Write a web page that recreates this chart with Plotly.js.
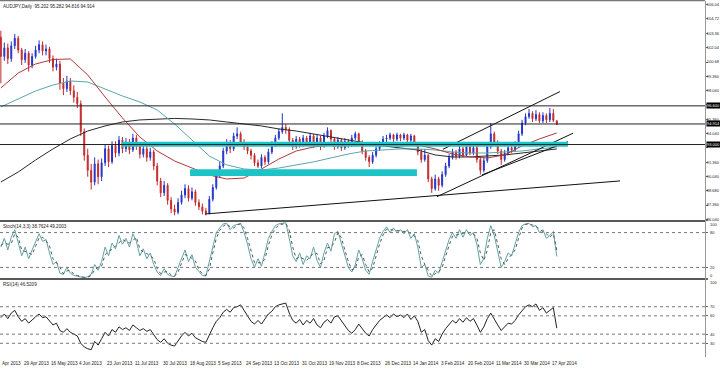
<!DOCTYPE html>
<html><head><meta charset="utf-8">
<script src="https://cdn.plot.ly/plotly-3.0.1.min.js"></script>
<style>html,body{margin:0;padding:0;background:#fff;}#chart{width:720px;height:378px;}</style>
</head><body><div id="chart"></div>
<script>
// ---- Price candles (each candle = 2 trading bars) ----
const openP = [103.0,101.2,102.0,101.0,102.2,102.9,101.8,100.9,101.5,100.4,
101.2,101.8,102.3,101.7,101.9,101.0,100.2,100.5,98.7,98.2,
98.9,98.0,97.4,96.8,94.2,92.0,90.6,89.5,91.2,90.0,
91.3,92.6,91.4,92.9,92.2,93.4,92.6,93.2,92.5,93.6,
92.9,92.1,92.6,91.8,92.3,91.0,89.6,88.5,89.2,87.8,
87.0,86.7,87.6,88.3,88.9,88.0,88.6,87.6,87.2,86.8,
86.6,87.9,89.0,90.2,91.0,92.4,93.1,92.6,93.8,94.0,
93.2,92.8,92.4,92.0,91.3,91.0,91.8,91.4,92.3,93.0,
93.6,94.2,94.6,94.4,93.4,92.8,93.5,93.0,93.6,93.2,
93.8,93.0,93.6,92.9,93.8,94.3,93.5,92.8,93.4,92.7,
93.3,93.0,93.6,94.0,93.2,92.4,91.8,91.4,92.0,92.6,
93.0,93.5,93.6,93.9,93.5,93.9,93.6,93.9,93.4,93.8,
93.1,92.3,91.6,92.0,89.8,88.9,89.8,89.2,90.2,91.0,
91.8,92.3,91.9,92.6,92.0,92.8,92.2,92.7,91.6,90.6,
91.5,92.8,94.0,93.2,92.4,91.6,92.2,92.7,92.5,93.0,
94.0,95.0,95.6,95.9,95.4,95.8,95.2,95.7,95.3,95.9,
95.202];
const highP = [103.6,102.5,102.4,102.6,103.3,103.1,102.0,101.9,101.7,101.5,
102.2,102.7,102.6,102.3,102.1,101.3,101.0,100.8,99.2,99.4,
99.2,98.5,97.9,97.1,94.5,92.6,91.2,91.8,91.6,91.7,
93.0,92.9,93.3,93.3,93.8,93.7,93.6,93.5,94.0,93.9,
93.2,93.0,92.9,92.7,92.5,91.3,89.9,89.6,89.4,88.1,
87.4,88.0,88.7,89.3,89.2,89.0,88.8,87.9,87.5,87.1,
88.2,89.3,90.5,91.4,92.7,93.5,93.4,94.1,94.6,94.2,
93.5,93.1,92.6,92.2,91.6,92.1,92.0,92.6,93.3,93.9,
94.5,95.9,94.9,94.6,93.6,93.8,93.7,93.9,93.8,94.1,
94.0,93.9,93.8,94.1,94.6,94.4,93.7,93.7,93.6,93.6,
93.5,93.9,94.2,94.1,93.4,92.6,92.0,92.3,92.9,93.3,
93.8,93.9,94.1,94.0,94.1,94.0,94.1,94.0,94.0,93.9,
93.2,92.6,92.6,92.1,90.0,90.2,90.0,90.5,91.3,92.1,
92.6,92.5,92.9,92.8,93.1,93.0,93.0,92.9,91.8,91.8,
93.1,95.0,94.2,93.4,92.6,92.5,93.0,93.0,93.3,94.3,
95.3,95.9,96.3,96.1,96.2,96.0,96.0,95.9,96.4,96.3,
95.282];
const lowP = [98.7,100.8,100.5,100.7,101.9,101.5,100.4,100.6,99.8,100.1,
101.0,101.5,101.3,101.3,100.6,99.8,99.9,98.1,97.6,97.9,
97.6,96.9,96.4,93.8,91.5,90.0,88.8,89.2,89.3,89.6,
91.0,90.9,91.2,91.8,91.9,92.2,92.3,92.1,92.3,92.5,
91.7,91.8,91.4,91.5,90.6,89.2,88.1,88.2,87.4,86.6,
86.4,86.5,87.4,88.0,87.7,87.8,87.3,86.9,86.5,86.4,
86.5,87.7,88.8,89.9,90.8,92.1,92.2,92.4,93.5,92.9,
92.5,92.1,91.6,91.0,90.8,90.8,91.1,91.2,92.1,92.8,
93.4,94.0,94.0,93.1,92.5,92.6,92.7,92.8,92.9,93.0,
92.7,92.8,92.5,92.7,93.6,93.2,92.5,92.6,92.4,92.5,
92.7,92.8,93.4,92.9,92.1,91.5,90.9,91.2,91.8,92.4,
92.8,93.2,93.4,93.2,93.3,93.3,93.4,93.2,93.2,92.9,
92.0,91.3,91.4,89.5,88.5,88.7,88.7,89.0,90.0,90.8,
91.6,91.6,91.7,91.8,91.9,92.0,92.0,91.3,90.2,90.4,
91.3,92.6,92.9,92.1,91.1,91.4,92.0,92.2,92.3,92.8,
93.8,94.8,95.4,95.1,95.2,95.0,95.0,95.0,95.1,95.1,
94.816];
const closeP = [101.2,102.0,101.0,102.2,102.9,101.8,100.9,101.5,100.4,101.2,
101.8,102.3,101.7,101.9,101.0,100.2,100.5,98.7,98.2,98.9,
98.0,97.4,96.8,94.2,92.0,90.6,89.5,91.2,90.0,91.3,
92.6,91.4,92.9,92.2,93.4,92.6,93.2,92.5,93.6,92.9,
92.1,92.6,91.8,92.3,91.0,89.6,88.5,89.2,87.8,87.0,
86.7,87.6,88.3,88.9,88.0,88.6,87.6,87.2,86.8,86.6,
87.9,89.0,90.2,91.0,92.4,93.1,92.6,93.8,94.0,93.2,
92.8,92.4,92.0,91.3,91.0,91.8,91.4,92.3,93.0,93.6,
94.2,94.6,94.4,93.4,92.8,93.5,93.0,93.6,93.2,93.8,
93.0,93.6,92.9,93.8,94.3,93.5,92.8,93.4,92.7,93.3,
93.0,93.6,94.0,93.2,92.4,91.8,91.4,92.0,92.6,93.0,
93.5,93.6,93.9,93.5,93.9,93.6,93.9,93.4,93.8,93.1,
92.3,91.6,92.0,89.8,88.9,89.8,89.2,90.2,91.0,91.8,
92.3,91.9,92.6,92.0,92.8,92.2,92.7,91.6,90.6,91.5,
92.8,94.0,93.2,92.4,91.6,92.2,92.7,92.5,93.0,94.0,
95.0,95.6,95.9,95.4,95.8,95.2,95.7,95.3,95.9,95.25,
94.914];

// ---- Moving averages (sampled every 10 bars) ----
const maBar = [0,10,20,30,40,50,60,70,80,90,100,110,120,130,140,150,160,170,180,190,200,210,220,230,240,250,260,270,280,290,300,310,320];
const maRed = [98.27,99.66,100.50,100.92,100.97,99.48,97.43,95.47,93.70,92.40,91.47,90.81,90.16,89.79,89.88,90.72,91.65,92.40,92.77,92.96,93.10,93.15,92.96,92.87,92.96,92.59,92.12,91.84,91.75,92.03,92.87,93.52,94.08];
const maTeal = [96.50,97.24,97.99,98.54,98.92,98.82,98.17,97.52,96.96,96.22,94.91,93.42,91.93,91.10,90.72,90.63,90.81,91.10,91.38,91.75,92.12,92.40,92.49,92.59,92.59,92.49,92.31,92.21,92.21,92.31,92.40,92.59,92.77];
const maDark = [89.51,90.44,91.56,92.59,93.52,94.26,94.73,95.10,95.29,95.38,95.43,95.38,95.29,95.10,94.91,94.73,94.45,94.26,93.98,93.70,93.42,93.14,92.87,92.68,92.49,92.03,91.84,91.84,91.93,92.03,92.21,92.40,92.59];

// ---- Drawn objects ----
const trendBars = [[117.5,356.4],[254.5,321.8],[251.0,329.3],[276.9,326.4]];
const trendPrices = [[86.53,89.61],[92.56,97.93],[88.14,94.05],[90.17,93.27]];
const zoneBars = [[69.7,326.4],[108.9,239.5]];
const zonePrices = [[92.80,93.27],[90.07,90.70]];
const levelPrices = [96.600,94.914,93.000];
const levelLabels = ['96.600','94.914','93.000'];

// ---- Stochastic (14,3,3) ----
const stochK = [55,70,50,72,85,60,40,55,35,50,65,
78,65,68,45,25,30,10,8,20,10,6,5,
3,2,4,8,25,15,30,55,
40,62,52,75,60,70,55,78,65,40,52,35,45,
25,12,6,18,8,5,4,20,35,50,30,42,20,12,6,5,30,
60,80,88,95,96,85,92,94,96,
80,60,35,20,35,22,45,70,82,92,95,96,97,
70,40,30,45,25,40,35,55,32,20,45,62,48,78,82,60,40,
20,12,25,50,35,15,8,30,50,70,82,90,80,88,80,85,78,85,70,78,55,
20,25,5,3,15,10,30,50,68,80,70,85,72,85,75,80,
60,25,35,70,92,75,45,20,30,45,40,60,80,
92,95,96,90,92,80,85,70,75,82,38.8];
const stochD = [58,62,60,61,78,72,50,48,45,42,57,
71,72,66,57,35,28,20,9,14,15,8,6,
4,3,3,6,16,20,22,42,
48,51,57,63,68,65,62,66,72,52,46,44,40,
35,18,9,12,13,7,5,12,27,42,40,36,31,16,9,6,17,
45,70,84,91,95,90,88,93,95,
88,70,48,28,28,28,34,58,76,87,93,95,96,
84,55,35,38,35,32,38,45,44,26,32,54,55,63,80,71,50,
30,16,18,38,42,25,12,19,40,60,76,86,85,84,84,82,82,82,78,74,66,
40,25,16,5,9,12,20,40,58,74,76,78,79,79,80,78,
70,45,32,50,80,85,62,35,25,35,42,50,70,
88,94,95,93,91,86,82,78,72,78,49.2];
const stochLevels = [80,20];
const stochScale = [100,80,20,0];

// ---- RSI(14) ----
const rsi = [58,62,57,63,66,59,54,57,52,56,59,62,58,59,54,50,52,44,42,46,42,40,38,
30,26,24,23,32,28,35,42,
38,45,42,48,45,47,44,50,47,44,46,43,45,
39,34,31,35,30,28,27,33,38,42,38,41,36,34,32,31,40,
47,54,58,64,67,64,69,70,72,
66,60,54,51,55,51,57,62,65,70,72,73,74,
63,55,52,56,50,55,52,57,50,47,53,56,52,59,60,55,50,
44,41,45,51,46,41,38,45,50,55,58,61,58,62,59,61,58,62,56,60,54,
42,45,33,28,35,32,40,46,51,55,52,57,53,58,54,57,
50,42,48,57,63,56,50,44,48,52,51,55,61,
66,70,72,70,73,66,69,63,66,69,46.5];
const rsiLevels = [70,60,40,30];
const rsiScale = [100,70,60,40,30];

// ---- Axis labels ----
const timeLabels = ['Apr 2013','29 Apr 2013','16 May 2013','4 Jun 2013','23 Jun 2013','11 Jul 2013','30 Jul 2013','18 Aug 2013','5 Sep 2013','24 Sep 2013','13 Oct 2013','31 Oct 2013','19 Nov 2013','8 Dec 2013','26 Dec 2013','14 Jan 2014','3 Feb 2014','20 Feb 2014','11 Mar 2014','30 Mar 2014','17 Apr 2014'];
const timeBars = [-4,12,28,44,60,76,92,108,124,140,156,172,188,204,220,236,252,268,284,300,316];
const priceTicks = [86.04,87.36,88.68,90.04,91.36,92.72,94.04,95.36,96.72,98.04,99.36,100.68,102.04,103.36,104.72,106.04];
const priceTickText = ['86.040','87.360','88.680','90.040','91.360','','94.040','95.360','','98.040','99.360','100.68','102.04','103.36','104.72','106.04'];
const titleText = 'AUDJPY,Daily  95.202 95.282 94.816 94.914';
const stochText = 'Stoch(14,3,3) 38.7624 49.2003';
const rsiText = 'RSI(14) 46.5209';

const X_RANGE = [-0.49, 405.3];
const candleX = closeP.map((_, i) => i * 2);
const FAM = 'Liberation Sans, Arial, sans-serif';
const SMALL = {family:FAM, size:4, color:'#222'};
const LABEL = {family:FAM, size:4.6, color:'#222'};

const traces = [];
traces.push({type:'scatter', mode:'lines', x:maBar, y:maDark, line:{color:'#2a2a2a', width:1}, hoverinfo:'skip'});
traces.push({type:'scatter', mode:'lines', x:maBar, y:maTeal, line:{color:'#5aa6ad', width:1}, hoverinfo:'skip'});
traces.push({type:'scatter', mode:'lines', x:maBar, y:maRed, line:{color:'#b0383a', width:1}, hoverinfo:'skip'});
trendBars.forEach((tb, k) => traces.push({type:'scatter', mode:'lines', x:tb, y:trendPrices[k], line:{color:'#111', width:1}, hoverinfo:'skip'}));
traces.push({type:'candlestick', x:candleX, open:openP, high:highP, low:lowP, close:closeP,
  increasing:{line:{color:'#2436c8', width:1}, fillcolor:'#2436c8'},
  decreasing:{line:{color:'#c42a2a', width:1}, fillcolor:'#c42a2a'},
  whiskerwidth:0, hoverinfo:'skip', xaxis:'x', yaxis:'y'});
traces.push({type:'scatter', mode:'lines', x:candleX, y:stochK, xaxis:'x', yaxis:'y2', line:{color:'#5fa3a6', width:1}, hoverinfo:'skip'});
traces.push({type:'scatter', mode:'lines', x:candleX, y:stochD, xaxis:'x', yaxis:'y2', line:{color:'#555', width:1, dash:'dot'}, hoverinfo:'skip'});
traces.push({type:'scatter', mode:'lines', x:candleX, y:rsi, xaxis:'x', yaxis:'y3', line:{color:'#222', width:1}, hoverinfo:'skip'});

const shapes = [];
zoneBars.forEach((zb, k) => shapes.push({type:'rect', xref:'x', yref:'y', x0:zb[0], x1:zb[1], y0:zonePrices[k][0], y1:zonePrices[k][1], fillcolor:'#1cc4c8', line:{width:0}, layer:'above'}));
levelPrices.forEach(p => shapes.push({type:'line', xref:'paper', yref:'y', x0:0, x1:1, y0:p, y1:p, line:{color:'#222', width:1}}));
stochLevels.forEach(v => shapes.push({type:'line', xref:'paper', yref:'y2', x0:0, x1:1, y0:v, y1:v, line:{color:'#777', width:1, dash:'dot'}}));
rsiLevels.forEach(v => shapes.push({type:'line', xref:'paper', yref:'y3', x0:0, x1:1, y0:v, y1:v, line:{color:'#777', width:1, dash:'dot'}}));
[0.381, 0.2185].forEach(v => shapes.push({type:'line', xref:'paper', yref:'paper', x0:0, x1:1, y0:v, y1:v, line:{color:'#222', width:1.5}}));
shapes.push({type:'line', xref:'paper', yref:'paper', x0:0, x1:1, y0:0.998, y1:0.998, line:{color:'#555', width:1}});

const annotations = [];
annotations.push({xref:'paper', yref:'paper', x:0, y:1, xanchor:'left', yanchor:'top', xshift:1, yshift:-2, text:titleText, showarrow:false, font:LABEL});
annotations.push({xref:'paper', yref:'paper', x:0, y:0.381, xanchor:'left', yanchor:'top', xshift:1, yshift:-1, text:stochText, showarrow:false, font:LABEL});
annotations.push({xref:'paper', yref:'paper', x:0, y:0.2185, xanchor:'left', yanchor:'top', xshift:1, yshift:-1, text:rsiText, showarrow:false, font:LABEL});
levelPrices.forEach((p, k) => annotations.push({xref:'paper', yref:'y', x:1, y:p, xanchor:'left', yanchor:'middle', xshift:1, text:levelLabels[k], showarrow:false, bgcolor:'#000', font:{family:FAM, size:4, color:'#fff'}, borderpad:0}));
stochScale.forEach(v => annotations.push({xref:'paper', yref:'y2', x:1, y:v, xanchor:'left', yanchor:'middle', xshift:3, yshift:(v===100?-4:(v===0?3:0)), text:String(v), showarrow:false, font:SMALL}));
rsiScale.forEach(v => annotations.push({xref:'paper', yref:'y3', x:1, y:v, xanchor:'left', yanchor:'middle', xshift:3, yshift:(v===100?-3:0), text:String(v), showarrow:false, font:SMALL}));
timeBars.forEach((b, k) => annotations.push({xref:'paper', yref:'paper', x:Math.max(0, (b - X_RANGE[0]) / (X_RANGE[1] - X_RANGE[0])), y:0, xanchor:'left', yanchor:'top', yshift:-2, text:timeLabels[k], showarrow:false, font:LABEL}));

const yCommon = {side:'right', showgrid:false, zeroline:false, showline:true, linecolor:'#999', linewidth:1, ticks:'outside', ticklen:2, tickcolor:'#666', tickfont:SMALL, fixedrange:true};
const layout = {
  width:720, height:378, margin:{l:0, r:15, t:0, b:21},
  paper_bgcolor:'#fff', plot_bgcolor:'#fff', showlegend:false, dragmode:false, boxgap:0.6,
  xaxis:{range:X_RANGE, showgrid:false, zeroline:false, showticklabels:false, ticks:'', showline:false, anchor:'y3', rangeslider:{visible:false}, fixedrange:true},
  yaxis:Object.assign({}, yCommon, {domain:[0.381, 0.9972], range:[85.88, 106.366], tickvals:priceTicks, ticktext:priceTickText, ticklabelstandoff:-2}),
  yaxis2:Object.assign({}, yCommon, {domain:[0.2185, 0.381], range:[0, 100], tickvals:stochScale, showticklabels:false}),
  yaxis3:Object.assign({}, yCommon, {domain:[0, 0.2185], range:[15, 100.3], tickvals:rsiScale, showticklabels:false}),
  shapes:shapes, annotations:annotations
};
Plotly.newPlot('chart', traces, layout, {staticPlot:true, displayModeBar:false});
</script></body></html>
